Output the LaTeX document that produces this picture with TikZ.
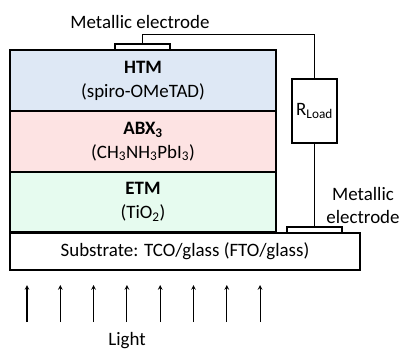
\documentclass[tikz,border=0pt]{standalone}
\usepackage{fontspec}
\setmainfont{Carlito}
\definecolor{htmblue}{RGB}{222,232,245}
\definecolor{abxpink}{RGB}{253,227,227}
\definecolor{etmgreen}{RGB}{230,251,239}

\begin{document}
\begin{tikzpicture}[x=1bp,y=-1bp,
  txt/.style={font=\fontsize{19}{24}\selectfont,align=center,inner sep=0pt},
  layer/.style={txt,draw,line width=1.2pt,minimum width=266bp,minimum height=61bp},
  electrode/.style={draw,line width=1.2pt,fill=white,minimum width=55bp,minimum height=6bp,inner sep=0pt},
  wire/.style={line width=1.3pt}]
  \useasboundingbox (0,0) rectangle (406,353);
  % layer stack
  \node[layer,fill=htmblue]  (htm) at (143,80.5)  {\textbf{HTM}\\(spiro-OMeTAD)};
  \node[layer,fill=abxpink]  (abx) at (143,141.5) {\textbf{ABX\textsubscript{3}}\\(CH\textsubscript{3}NH\textsubscript{3}PbI\textsubscript{3})};
  \node[layer,fill=etmgreen,minimum height=60bp] (etm) at (143,202) {\textbf{ETM}\\(TiO\textsubscript{2})};
  \node[layer,fill=white,minimum width=350bp,minimum height=37bp] (sub) at (185,251.5)
       {Substrate: TCO/glass (FTO/glass)};
  % electrodes and load
  \node[electrode] (topel) at (142.5,47) {};
  \node[electrode] (botel) at (314.5,230) {};
  \node[txt,draw,line width=1.2pt,minimum width=45bp,minimum height=64bp] (rload) at (314.5,111)
       {R\textsubscript{Load}};
  \draw[wire] (topel.north) -- ++(0,-9) -| (rload.north);
  \draw[wire] (rload.south) -- (rload.south |- botel.north);
  \node[txt] (toplab) at (140,22) {Metallic electrode};
  \node[txt] (botlab) at (363,205.5) {Metallic\\electrode};
  % light
  \foreach \i in {0,...,7} {
    \coordinate (s\i) at (27+33.3*\i,322);
    \coordinate (e\i) at (27+33.3*\i,285);
    \draw[line width=1.1pt,-stealth] (s\i) -- (e\i);
  }
  \node[txt] (light) at (127,341) {Light};
\end{tikzpicture}
\end{document}
